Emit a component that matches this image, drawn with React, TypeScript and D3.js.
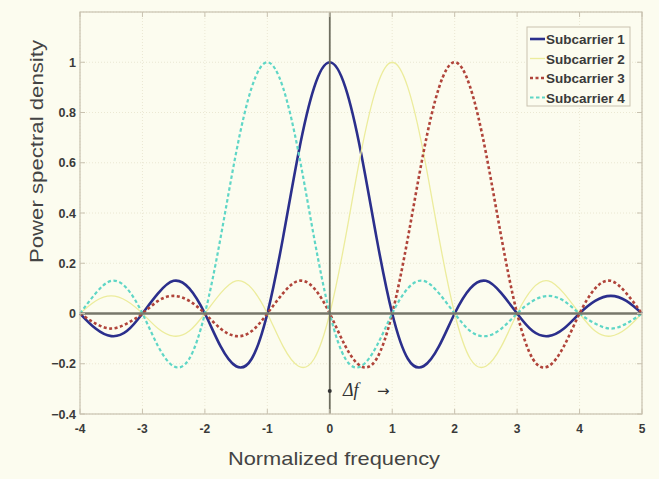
import React from "react";
import * as d3 from "d3";

const W = 659;
const H = 479;

// Normalized frequency sample positions (step 0.25)
const freq = [
  -4, -3.75, -3.5, -3.25, -3, -2.75, -2.5, -2.25, -2, -1.75, -1.5, -1.25, -1, -0.75, -0.5, -0.25,
  0, 0.25, 0.5, 0.75, 1, 1.25, 1.5, 1.75, 2, 2.25, 2.5, 2.75, 3, 3.25, 3.5, 3.75, 4, 4.25, 4.5, 4.75, 5,
];

const subcarrier1 = [
  0, -0.06, -0.09, -0.07, 0, 0.08, 0.13, 0.1, 0, -0.13, -0.21, -0.18, 0, 0.3, 0.64, 0.9,
  1, 0.9, 0.64, 0.3, 0, -0.18, -0.21, -0.13, 0, 0.1, 0.13, 0.08, 0, -0.07, -0.09, -0.06, 0, 0.05, 0.07, 0.05, 0,
];
const subcarrier2 = [
  0, 0.05, 0.07, 0.05, 0, -0.06, -0.09, -0.07, 0, 0.08, 0.13, 0.1, 0, -0.13, -0.21, -0.18,
  0, 0.3, 0.64, 0.9, 1, 0.9, 0.64, 0.3, 0, -0.18, -0.21, -0.13, 0, 0.1, 0.13, 0.08, 0, -0.07, -0.09, -0.06, 0,
];
const subcarrier3 = [
  0, -0.04, -0.06, -0.04, 0, 0.05, 0.07, 0.05, 0, -0.06, -0.09, -0.07, 0, 0.08, 0.13, 0.1,
  0, -0.13, -0.21, -0.18, 0, 0.3, 0.64, 0.9, 1, 0.9, 0.64, 0.3, 0, -0.18, -0.21, -0.13, 0, 0.1, 0.13, 0.08, 0,
];
const subcarrier4 = [
  0, 0.08, 0.13, 0.1, 0, -0.13, -0.21, -0.18, 0, 0.3, 0.64, 0.9, 1, 0.9, 0.64, 0.3,
  0, -0.18, -0.21, -0.13, 0, 0.1, 0.13, 0.08, 0, -0.07, -0.09, -0.06, 0, 0.05, 0.07, 0.05, 0, -0.04, -0.06, -0.04, 0,
];

const seriesNames = ["Subcarrier 1", "Subcarrier 2", "Subcarrier 3", "Subcarrier 4"];
const seriesValues = [subcarrier1, subcarrier2, subcarrier3, subcarrier4];

const xTicks = [-4, -3, -2, -1, 0, 1, 2, 3, 4, 5];
const yTicks = [-0.4, -0.2, 0, 0.2, 0.4, 0.6, 0.8, 1];

const styles = [
  { stroke: "#2b2f8c", width: 2.6, dash: "" },
  { stroke: "#ecec9c", width: 1.3, dash: "" },
  { stroke: "#b0443a", width: 2.6, dash: "3,2.5" },
  { stroke: "#5fd6c6", width: 2.2, dash: "3.5,2.5" },
];

export default function App() {
  const x = d3.scaleLinear().domain([-4, 5]).range([80, 642]);
  const y = d3.scaleLinear().domain([-0.4, 1.2]).range([414, 12]);

  const line = d3
    .line<[number, number]>()
    .x((d) => x(d[0]))
    .y((d) => y(d[1]))
    .curve(d3.curveNatural);

  const font = "'Liberation Sans', Arial, sans-serif";
  const [x0, x1] = x.range();
  const [y0, y1] = y.range();

  return (
    <svg
      width={W}
      height={H}
      style={{ position: "absolute", left: 0, top: 0, display: "block" }}
    >
      <rect x={0} y={0} width={W} height={H} fill="#fcfcef" />
      {/* grid */}
      {xTicks.map((t) => (
        <line key={"gx" + t} x1={x(t)} x2={x(t)} y1={y1} y2={y0} stroke="#e6e2cc" strokeWidth={0.8} strokeDasharray="1,2" />
      ))}
      {[...yTicks, 1.2].map((t) => (
        <line key={"gy" + t} x1={x0} x2={x1} y1={y(t)} y2={y(t)} stroke="#e6e2cc" strokeWidth={0.8} strokeDasharray="1,2" />
      ))}
      {/* curves */}
      {seriesValues.map((vals, i) => (
        <path
          key={"s" + i}
          d={line(freq.map((f, k) => [f, vals[k]] as [number, number])) || ""}
          fill="none"
          stroke={styles[i].stroke}
          strokeWidth={styles[i].width}
          strokeDasharray={styles[i].dash}
          strokeLinejoin="round"
        />
      ))}
      {/* zero lines */}
      <line x1={x0} x2={x1} y1={y(0)} y2={y(0)} stroke="#77776a" strokeWidth={2.4} />
      <line x1={x(0)} x2={x(0)} y1={y1} y2={y0} stroke="#6e6e60" strokeWidth={1.8} />
      {/* box */}
      <rect x={x0} y={y1} width={x1 - x0} height={y0 - y1} fill="none" stroke="#c9c2b0" strokeWidth={1.2} />
      {/* ticks */}
      {xTicks.map((t) => (
        <g key={"tx" + t}>
          <line x1={x(t)} x2={x(t)} y1={y0} y2={y0 - 5} stroke="#c9c2b0" />
          <line x1={x(t)} x2={x(t)} y1={y1} y2={y1 + 5} stroke="#c9c2b0" />
          <text x={x(t)} y={433} textAnchor="middle" fontFamily={font} fontWeight="bold" fontSize={12} fill="#3a3a3a">
            {t}
          </text>
        </g>
      ))}
      {yTicks.map((t) => (
        <g key={"ty" + t}>
          <line x1={x0} x2={x0 + 5} y1={y(t)} y2={y(t)} stroke="#c9c2b0" />
          <line x1={x1} x2={x1 - 5} y1={y(t)} y2={y(t)} stroke="#c9c2b0" />
          <text x={76} y={y(t) + 4.5} textAnchor="end" fontFamily={font} fontWeight="bold" fontSize={12.5} fill="#3a3a3a">
            {d3.format("~g")(t)}
          </text>
        </g>
      ))}
      {/* axis labels */}
      <text x={228} y={465} fontFamily={font} fontSize={19} fill="#444" textLength={212} lengthAdjust="spacingAndGlyphs">
        Normalized frequency
      </text>
      <text
        transform={`translate(43,263) rotate(-90)`}
        fontFamily={font}
        fontSize={18}
        fill="#444"
        textLength={223}
        lengthAdjust="spacingAndGlyphs"
      >
        Power spectral density
      </text>
      {/* delta f annotation */}
      <circle cx={x(0)} cy={391} r={2} fill="#333" />
      <text x={343} y={396} fontFamily="'Liberation Serif', 'DejaVu Serif', serif" fontStyle="italic" fontSize={18} fill="#333">
        Δf
      </text>
      <text x={377} y={396} fontFamily="'DejaVu Sans', sans-serif" fontSize={15} fill="#333">
        →
      </text>
      {/* legend */}
      <rect x={527} y={27} width={103} height={79} fill="#fcfcef" stroke="#c9c2b0" strokeWidth={1} />
      {seriesNames.map((name, i) => {
        const ly = 39 + i * 19.5;
        return (
          <g key={"lg" + i}>
            <line
              x1={530}
              x2={545}
              y1={ly}
              y2={ly}
              stroke={styles[i].stroke}
              strokeWidth={styles[i].width}
              strokeDasharray={styles[i].dash}
            />
            <text x={546} y={ly + 5} fontFamily={font} fontWeight="bold" fontSize={13.5} fill="#3a3a3a">
              {name}
            </text>
          </g>
        );
      })}
    </svg>
  );
}
